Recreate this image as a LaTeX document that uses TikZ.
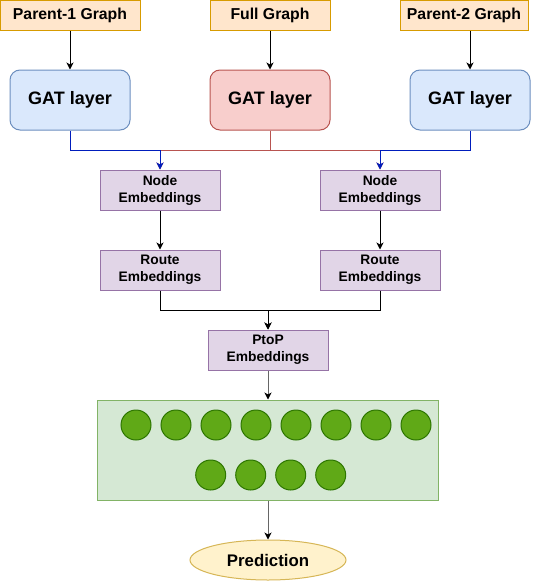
\documentclass[tikz,border=0pt]{standalone}
\usepackage{fontspec}
\setmainfont{Liberation Sans}
\usetikzlibrary{shapes.geometric,arrows.meta}
\definecolor{orfill}{HTML}{FFE6CC}
\definecolor{ordraw}{HTML}{D79B00}
\definecolor{blfill}{HTML}{DAE8FC}
\definecolor{bldraw}{HTML}{6C8EBF}
\definecolor{rdfill}{HTML}{F8CECC}
\definecolor{rddraw}{HTML}{B85450}
\definecolor{pufill}{HTML}{E1D5E7}
\definecolor{pudraw}{HTML}{9673A6}
\definecolor{grfill}{HTML}{D5E8D4}
\definecolor{grdraw}{HTML}{82B366}
\definecolor{dotfill}{HTML}{60A917}
\definecolor{dotdraw}{HTML}{2D7600}
\definecolor{yefill}{HTML}{FFF2CC}
\definecolor{yedraw}{HTML}{D6B656}
\definecolor{bline}{HTML}{001DBC}
\definecolor{rline}{HTML}{B85450}
\tikzset{
  inbox/.style={draw=ordraw, fill=orfill, line width=1pt, inner sep=0pt, minimum height=30pt, font=\fontsize{15.8}{19}\selectfont\bfseries},
  gatbox/.style={draw=bldraw, fill=blfill, line width=1pt, rounded corners=10pt, inner sep=0pt, minimum width=120pt, minimum height=60pt, font=\fontsize{18}{21}\selectfont\bfseries},
  embbox/.style={draw=pudraw, fill=pufill, line width=1pt, inner sep=0pt, minimum width=120pt, minimum height=40pt, align=center, font=\fontsize{13.8}{17}\selectfont\bfseries},
  dot/.style={circle, draw=dotdraw, fill=dotfill, line width=1pt, minimum size=30pt, inner sep=0pt},
  arr/.style={line width=1pt, -{Stealth[length=7pt,width=7pt,inset=2pt]}},
}
\begin{document}
\begin{tikzpicture}[x=1pt,y=-1pt]
\useasboundingbox (0,0) rectangle (541,581);
% inputs
\node[inbox, minimum width=140pt] (p1) at (70,15) {Parent-1 Graph};
\node[inbox, minimum width=120pt] (fg) at (270,15) {Full Graph};
\node[inbox, minimum width=128pt] (p2) at (464,15) {Parent-2 Graph};
% GAT layers
\node[gatbox] (g1) at (70,100) {GAT layer};
\node[gatbox, draw=rddraw, fill=rdfill] (g2) at (270,100) {GAT layer};
\node[gatbox] (g3) at (470,100) {GAT layer};
% embeddings
\node[embbox] (ne1) at (160,190) {Node\\Embeddings};
\node[embbox] (ne2) at (380,190) {Node\\Embeddings};
\node[embbox] (re1) at (160,270) {Route\\Embeddings};
\node[embbox] (re2) at (380,270) {Route\\Embeddings};
\node[embbox] (pp) at (268,350) {PtoP\\Embeddings};
% green layer
\node[draw=grdraw, fill=grfill, line width=1pt, minimum width=341pt, minimum height=100pt, inner sep=0pt] (gr) at (267.5,450) {};
\foreach \i in {1,...,8} {
  \node[dot] (c\i) at (96+40*\i,425) {};
}
\foreach \i/\x in {9/210.7,10/250.7,11/290.7,12/330.7} {
  \node[dot] (c\i) at (\x,475) {};
}
% prediction
\node[ellipse, draw=yedraw, fill=yefill, line width=1pt, minimum width=156pt, minimum height=40pt, inner sep=0pt, font=\fontsize{16.8}{20}\selectfont\bfseries] (pr) at (268,560) {Prediction};
% connectors
\draw[arr] (p1) -- (g1);
\draw[arr] (fg) -- (g2);
\draw[arr] (p2.south -| g3.north) -- (g3);
\draw[arr, rline] (g2.south) -- ++(0,20) -| (ne1.north);
\draw[arr, rline] (g2.south) -- ++(0,20) -| (ne2.north);
\draw[arr, bline] (g1.south) -- ++(0,20) -| (ne1.north);
\draw[arr, bline] (g3.south) -- ++(0,20) -| (ne2.north);
\draw[arr] (ne1) -- (re1);
\draw[arr] (ne2) -- (re2);
\draw[arr] (re1.south) -- ++(0,20) -| (pp.north);
\draw[arr] (re2.south) -- ++(0,20) -| (pp.north);
\draw[arr, draw=black!60, -{Stealth[length=7pt,width=7pt,inset=2pt,black]}] (pp.south) -- (pp.south |- gr.north);
\draw[arr, draw=black!60, -{Stealth[length=7pt,width=7pt,inset=2pt,black]}] (pr.north |- gr.south) -- (pr.north);
\end{tikzpicture}
\end{document}
